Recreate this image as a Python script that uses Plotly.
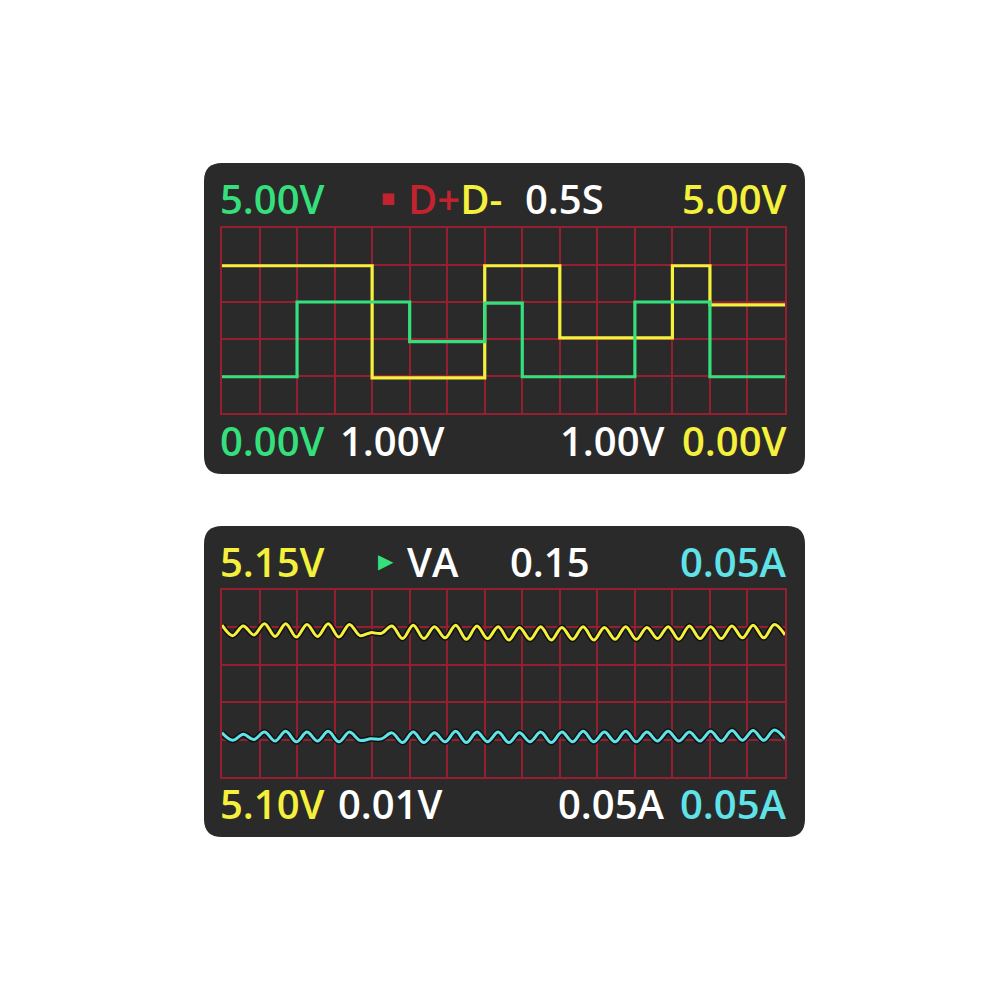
import plotly.graph_objects as go

# --- data -------------------------------------------------------------
# top scope: D+ / D- logic levels (grid divisions), step changes at column
dplus_t = [0, 4, 7, 9, 12, 13, 15]
dplus_v = [3.98, 0.95, 3.98, 2.03, 3.98, 2.92, 2.92]
dminus_t = [0, 2, 5, 7, 8, 11, 13, 15]
dminus_v = [0.98, 3.0, 1.93, 2.97, 0.98, 3.0, 0.98, 0.98]

# bottom scope: voltage / current ripple, one sample per half ripple cycle
volt_ripple = [4.06, 3.78, 4.04, 3.80, 4.10, 3.76, 4.10, 3.74, 4.08, 3.76,
               4.10, 3.74, 4.08, 3.78, 3.86, 3.84, 4.04, 3.70, 4.06, 3.70,
               4.02, 3.72, 4.06, 3.68, 4.04, 3.70, 4.02, 3.66, 4.00, 3.68,
               4.02, 3.66, 4.00, 3.68, 4.02, 3.66, 4.00, 3.68, 4.02, 3.68,
               4.00, 3.70, 4.02, 3.68, 4.04, 3.70, 4.02, 3.70, 4.04, 3.72,
               4.06, 3.72, 4.08, 3.80]
amp_ripple = [1.18, 0.98, 1.14, 1.00, 1.20, 0.96, 1.22, 0.94, 1.20, 0.96,
              1.22, 0.94, 1.20, 0.98, 1.02, 1.02, 1.18, 0.92, 1.20, 0.92,
              1.18, 0.94, 1.22, 0.92, 1.20, 0.94, 1.20, 0.92, 1.18, 0.94,
              1.20, 0.92, 1.20, 0.94, 1.22, 0.94, 1.20, 0.94, 1.22, 0.94,
              1.20, 0.96, 1.22, 0.96, 1.20, 0.96, 1.22, 0.96, 1.24, 0.98,
              1.24, 0.98, 1.26, 1.02]

# readout labels
top_left = "5.00V"
top_mode = ["D+", "D-"]
top_time = "0.5S"
top_right = "5.00V"
top_bottom = ["0.00V", "1.00V", "1.00V", "0.00V"]
bot_left = "5.15V"
bot_mode = "VA"
bot_power = "0.15"
bot_right = "0.05A"
bot_bottom = ["5.10V", "0.01V", "0.05A", "0.05A"]

# --- colours ----------------------------------------------------------
GREEN = "#35df7c"
YELLOW = "#f4f03c"
CYAN = "#5fe3e8"
RED = "#c3232f"
WHITE = "#ffffff"
PANEL = "#2a2a2a"
GRID = "#951f30"

# page has an 8px body margin, so the figure is drawn inside 974x974
OFF = 8.0
W = 974.0


def px(x):
    return (x - OFF) / W


def py(y):
    return 1 - (y - OFF) / W


def panel_path(x0, y0, x1, y1, r):
    pts = [
        f"M {px(x0 + r)},{py(y0)}",
        f"L {px(x1 - r)},{py(y0)}",
        f"Q {px(x1)},{py(y0)} {px(x1)},{py(y0 + r)}",
        f"L {px(x1)},{py(y1 - r)}",
        f"Q {px(x1)},{py(y1)} {px(x1 - r)},{py(y1)}",
        f"L {px(x0 + r)},{py(y1)}",
        f"Q {px(x0)},{py(y1)} {px(x0)},{py(y1 - r)}",
        f"L {px(x0)},{py(y0 + r)}",
        f"Q {px(x0)},{py(y0)} {px(x0 + r)},{py(y0)}",
        "Z",
    ]
    return " ".join(pts)


fig = go.Figure()

# top scope traces
fig.add_trace(go.Scatter(x=dplus_t, y=dplus_v, mode="lines", line_shape="hv",
                         line=dict(color=YELLOW, width=3.2), xaxis="x", yaxis="y"))
fig.add_trace(go.Scatter(x=dminus_t, y=dminus_v, mode="lines", line_shape="hv",
                         line=dict(color=GREEN, width=3.2), xaxis="x", yaxis="y"))

# bottom scope traces (dark outline under each ripple)
for vals, col in [(volt_ripple, YELLOW), (amp_ripple, CYAN)]:
    fig.add_trace(go.Scatter(y=vals, mode="lines", line_shape="spline",
                             line=dict(color="#111111", width=6), xaxis="x2", yaxis="y2"))
    fig.add_trace(go.Scatter(y=vals, mode="lines", line_shape="spline",
                             line=dict(color=col, width=3), xaxis="x2", yaxis="y2"))

n_samples = len(volt_ripple) - 1

axis_style = dict(showgrid=True, gridcolor=GRID, gridwidth=1.8, showticklabels=False,
                  zeroline=False, showline=True, linecolor=GRID, linewidth=1.8,
                  mirror=True, ticks="", fixedrange=True, tick0=0)

fig.update_layout(
    width=974, height=974,
    margin=dict(l=0, r=0, t=0, b=0),
    paper_bgcolor="white",
    plot_bgcolor=PANEL,
    showlegend=False,
    xaxis=dict(domain=[px(222), px(785)], range=[0, 15], dtick=1, **axis_style),
    yaxis=dict(domain=[py(413), py(228)], range=[0, 5], dtick=1, **axis_style),
    xaxis2=dict(domain=[px(222), px(785)], range=[0, n_samples], dtick=n_samples / 15,
                anchor="y2", **axis_style),
    yaxis2=dict(domain=[py(777), py(590)], range=[0, 5], dtick=1, anchor="x2", **axis_style),
)

fig.add_shape(type="path", path=panel_path(204, 163, 805, 474, 18), xref="paper", yref="paper",
              fillcolor=PANEL, line=dict(width=0), layer="below")
fig.add_shape(type="path", path=panel_path(204, 526, 805, 837, 18), xref="paper", yref="paper",
              fillcolor=PANEL, line=dict(width=0), layer="below")

FONT = "Open Sans"
SIZE = 40


def label(text, x, y, color, anchor="left", size=SIZE, family=FONT):
    fig.add_annotation(text=text, x=px(x), y=py(y), xref="paper", yref="paper",
                       xanchor=anchor, yanchor="middle", showarrow=False,
                       font=dict(family=family, size=size, color=color, weight=600))


# top panel readouts
label(top_left, 218, 198, GREEN)
label("■", 379, 198, RED, size=15, family="DejaVu Sans")
label(f"<span style='color:{RED}'>{top_mode[0]}</span><span style='color:{YELLOW}'>{top_mode[1]}</span>",
      406, 198, RED)
label(top_time, 523, 198, WHITE)
label(top_right, 789, 198, YELLOW, anchor="right")
label(top_bottom[0], 218, 440, GREEN)
label(top_bottom[1], 338, 440, WHITE)
label(top_bottom[2], 667, 440, WHITE, anchor="right")
label(top_bottom[3], 789, 440, YELLOW, anchor="right")

# bottom panel readouts
label(bot_left, 218, 561, YELLOW)
label("▶", 376, 561, GREEN, size=20, family="DejaVu Sans")
label(bot_mode, 405, 561, WHITE)
label(bot_power, 508, 561, WHITE)
label(bot_right, 789, 561, CYAN, anchor="right")
label(bot_bottom[0], 218, 803, YELLOW)
label(bot_bottom[1], 336, 803, WHITE)
label(bot_bottom[2], 667, 803, WHITE, anchor="right")
label(bot_bottom[3], 789, 803, CYAN, anchor="right")

fig.write_html("out.html")
